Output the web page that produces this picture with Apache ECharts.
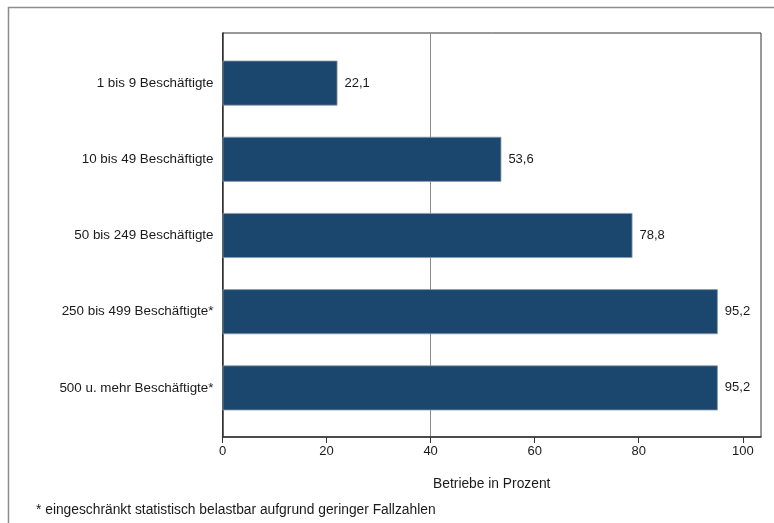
<!DOCTYPE html>
<html>
<head>
<meta charset="utf-8">
<script src="https://cdn.jsdelivr.net/npm/echarts@6/dist/echarts.min.js"></script>
<style>
  html, body { margin: 0; padding: 0; background: #fff; }
  #chart { width: 774px; height: 523px; }
</style>
</head>
<body>
<div id="chart"></div>
<script>
// Betriebsgrößenklassen und Anteil der Betriebe in Prozent
const categories = [
  '1 bis 9 Beschäftigte',
  '10 bis 49 Beschäftigte',
  '50 bis 249 Beschäftigte',
  '250 bis 499 Beschäftigte*',
  '500 u. mehr Beschäftigte*'
];
const values = [22.1, 53.6, 78.8, 95.2, 95.2];
const xTicks = [0, 20, 40, 60, 80, 100];
const referenceLine = 40;
const axisTitle = 'Betriebe in Prozent';
const footnote = '* eingeschränkt statistisch belastbar aufgrund geringer Fallzahlen';

const FONT = '"Liberation Sans", Arial, Helvetica, sans-serif';
const X_MAX = 103.5;
const fmt = v => String(v).replace('.', ',');

const chart = echarts.init(document.getElementById('chart'), null, { renderer: 'canvas' });

chart.setOption({
  backgroundColor: '#ffffff',
  animation: false,
  textStyle: { fontFamily: FONT },
  title: {
    text: footnote,
    left: 36,
    top: 503,
    padding: 0,
    textStyle: { fontSize: 13.8, fontWeight: 'normal', color: '#1a1a1a', fontFamily: FONT }
  },
  graphic: [{
    // outer frame (top and left edges visible)
    type: 'rect',
    silent: true,
    shape: { x: 8.5, y: 7.5, width: 900, height: 700 },
    style: { fill: 'none', stroke: '#8c8c8c', lineWidth: 1.5 }
  }],
  grid: [
    // plot frame with axes
    { left: 222.5, right: 13, top: 33, bottom: 86, show: true, borderColor: '#333', borderWidth: 1, backgroundColor: 'transparent' },
    // bar band area
    { left: 222.5, right: 13, top: 45, height: 381 }
  ],
  xAxis: [
    {
      gridIndex: 0,
      type: 'value',
      min: 0,
      max: X_MAX,
      interval: 20,
      name: axisTitle,
      nameLocation: 'middle',
      nameGap: 40,
      nameTextStyle: { fontSize: 13.8, color: '#1a1a1a', fontFamily: FONT },
      axisLine: { show: true, lineStyle: { color: '#333', width: 1.5 } },
      axisTick: { show: true, length: 6, lineStyle: { color: '#333' }, customValues: xTicks },
      axisLabel: { show: true, fontSize: 13, color: '#1a1a1a', margin: 8, customValues: xTicks, fontFamily: FONT },
      splitLine: { show: false }
    },
    {
      gridIndex: 1,
      type: 'value',
      min: 0,
      max: X_MAX,
      show: false
    }
  ],
  yAxis: [
    {
      gridIndex: 0,
      type: 'category',
      data: categories,
      inverse: true,
      axisLine: { show: true, lineStyle: { color: '#333', width: 1.5 } },
      axisTick: { show: false },
      axisLabel: { show: false },
      splitLine: { show: false }
    },
    {
      gridIndex: 1,
      type: 'category',
      data: categories,
      inverse: true,
      axisLine: { show: false },
      axisTick: { show: false },
      axisLabel: { show: true, fontSize: 13.4, color: '#1a1a1a', margin: 9, fontFamily: FONT },
      splitLine: { show: false }
    }
  ],
  series: [
    {
      // reference line at 40 %, drawn behind the bars
      type: 'bar',
      xAxisIndex: 0,
      yAxisIndex: 0,
      z: 0,
      data: [],
      markLine: {
        silent: true,
        symbol: 'none',
        z: 0,
        label: { show: false },
        lineStyle: { color: '#8a8a8a', width: 1, type: 'solid' },
        data: [{ xAxis: referenceLine }]
      }
    },
    {
      type: 'bar',
      xAxisIndex: 1,
      yAxisIndex: 1,
      z: 5,
      data: values,
      barWidth: 45,
      itemStyle: { color: '#1b466e', borderColor: '#8d9aa8', borderWidth: 0.8 },
      label: {
        show: true,
        position: 'right',
        distance: 7,
        fontSize: 13,
        color: '#1a1a1a',
        fontFamily: FONT,
        formatter: p => fmt(p.value)
      }
    }
  ]
});
</script>
</body>
</html>
